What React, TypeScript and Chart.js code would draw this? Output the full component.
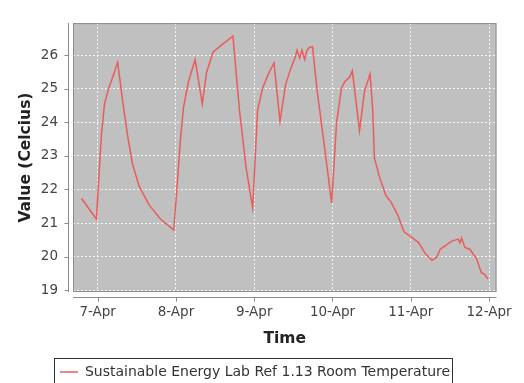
import React, { useEffect, useRef } from 'react';
import { Chart, registerables } from 'chart.js';

Chart.register(...registerables);

// x: days since 7-Apr 00:00
const dayOffsets = [
  -0.206, -0.016, 0.047, 0.088, 0.142, 0.193, 0.256, 0.319, 0.382, 0.445,
  0.53, 0.656, 0.803, 0.971, 1.013, 1.055, 1.097, 1.16, 1.245, 1.337,
  1.391, 1.475, 1.601, 1.728, 1.812, 1.895, 1.98, 2.043, 2.106, 2.19,
  2.253, 2.329, 2.4, 2.463, 2.526, 2.547, 2.581, 2.61, 2.644, 2.673,
  2.711, 2.745, 2.8, 2.863, 2.926, 2.989, 3.052, 3.115, 3.156, 3.22,
  3.253, 3.345, 3.409, 3.48, 3.514, 3.535, 3.598, 3.682, 3.745, 3.83,
  3.913, 3.997, 4.102, 4.187, 4.271, 4.334, 4.376, 4.439, 4.523, 4.607,
  4.628, 4.649, 4.691, 4.754, 4.839, 4.902, 4.943, 4.985,
];

const temperatures = [
  21.73, 21.12, 23.61, 24.56, 25.02, 25.35, 25.79, 24.64, 23.61, 22.76,
  22.1, 21.54, 21.12, 20.79, 22.02, 23.43, 24.45, 25.21, 25.87, 24.55,
  25.49, 26.1, 26.34, 26.57, 24.36, 22.67, 21.45, 24.36, 25.02, 25.49,
  25.77, 24.03, 25.12, 25.58, 25.96, 26.15, 25.92, 26.15, 25.87, 26.15,
  26.25, 26.25, 25.02, 23.89, 22.76, 21.59, 24.0, 25.02, 25.21, 25.35,
  25.54, 23.75, 24.93, 25.44, 24.36, 22.95, 22.39, 21.82, 21.63, 21.26,
  20.74, 20.6, 20.41, 20.08, 19.89, 19.99, 20.22, 20.32, 20.46, 20.52,
  20.41, 20.55, 20.27, 20.22, 19.94, 19.52, 19.47, 19.33,
];

const xTickValues = [0, 1, 2, 3, 4, 5];
const xTickLabels = ['7-Apr', '8-Apr', '9-Apr', '10-Apr', '11-Apr', '12-Apr'];
const yTickValues = [19, 20, 21, 22, 23, 24, 25, 26];
const seriesLabel = 'Sustainable Energy Lab Ref 1.13 Room Temperature';
const xTitle = 'Time';
const yTitle = 'Value (Celcius)';

const AXIS_GAP = 5;
const TICK_LEN = 4;

const plotDecor = {
  id: 'plotDecor',
  beforeDraw(chart: any) {
    const { ctx, chartArea: a } = chart;
    ctx.save();
    ctx.fillStyle = '#c0c0c0';
    ctx.fillRect(a.left, a.top, a.right - a.left, a.bottom - a.top);
    ctx.restore();
  },
  afterDraw(chart: any) {
    const { ctx, chartArea: a } = chart;
    const xs = chart.scales.x;
    const ys = chart.scales.y;
    ctx.save();
    // plot border
    ctx.strokeStyle = '#8e8e8e';
    ctx.lineWidth = 1;
    ctx.strokeRect(a.left + 0.5, a.top + 0.5, a.right - a.left - 1, a.bottom - a.top - 1);
    // offset axis lines
    ctx.strokeStyle = '#8a8a8a';
    ctx.beginPath();
    const yx = Math.round(a.left - AXIS_GAP) + 0.5;
    ctx.moveTo(yx, a.top);
    ctx.lineTo(yx, a.bottom);
    const xy = Math.round(a.bottom + AXIS_GAP) + 0.5;
    ctx.moveTo(a.left, xy);
    ctx.lineTo(a.right, xy);
    ys.ticks.forEach((_t: any, i: number) => {
      const p = Math.round(ys.getPixelForTick(i)) + 0.5;
      ctx.moveTo(yx, p);
      ctx.lineTo(yx - TICK_LEN, p);
    });
    xs.ticks.forEach((_t: any, i: number) => {
      const p = Math.round(xs.getPixelForTick(i)) + 0.5;
      ctx.moveTo(p, xy);
      ctx.lineTo(p, xy + TICK_LEN);
    });
    ctx.stroke();
    // legend frame
    const lg = chart.legend;
    if (lg && lg.legendHitBoxes && lg.legendHitBoxes.length) {
      const hb = lg.legendHitBoxes[0];
      const cy = hb.top + hb.height / 2;
      ctx.strokeStyle = '#333';
      ctx.strokeRect(Math.round(hb.left - 6) + 0.5, Math.round(cy - 14) + 0.5, Math.round(hb.width + 8), 40);
    }
    ctx.restore();
  },
};

export default function App() {
  const canvasRef = useRef<HTMLCanvasElement | null>(null);

  useEffect(() => {
    if (!canvasRef.current) return;
    const tickFont = { family: 'DejaVu Sans', size: 13.5 };
    const titleFont = { family: 'DejaVu Sans', size: 15.5, weight: 'bold' as const };
    const chart = new Chart(canvasRef.current, {
      type: 'line',
      data: {
        datasets: [
          {
            label: seriesLabel,
            data: dayOffsets.map((d, i) => ({ x: d, y: temperatures[i] })),
            borderColor: '#ea5b5b',
            backgroundColor: '#ea5b5b',
            borderWidth: 1.5,
            pointRadius: 0,
            tension: 0,
            fill: false,
          },
        ],
      },
      options: {
        animation: false,
        responsive: true,
        maintainAspectRatio: false,
        layout: { padding: { left: 8, right: 22, top: 8, bottom: 0 } },
        plugins: {
          tooltip: { enabled: false },
          legend: {
            position: 'bottom',
            maxHeight: 18,
            labels: {
              usePointStyle: true,
              pointStyle: 'line',
              pointStyleWidth: 18,
              boxHeight: 12,
              padding: 0,
              color: '#333',
              font: { family: 'DejaVu Sans', size: 14 },
            },
          },
        },
        scales: {
          x: {
            type: 'linear',
            min: -0.315,
            max: 5.095,
            afterBuildTicks: (scale: any) => {
              scale.ticks = xTickValues.map((v) => ({ value: v }));
            },
            afterFit: (scale: any) => {
              scale.height = 73;
            },
            ticks: {
              autoSkip: false,
              maxRotation: 0,
              padding: 12,
              color: '#444',
              font: tickFont,
              callback: (v: any) => {
                const i = xTickValues.indexOf(Number(v));
                return i >= 0 ? xTickLabels[i] : '';
              },
            },
            grid: { color: 'rgba(255,255,255,0.85)', drawTicks: false, lineWidth: 1 },
            border: { display: false, dash: [2, 2] },
            title: { display: true, text: xTitle, color: '#222', font: titleFont, padding: { top: 0, bottom: 17 } },
          },
          y: {
            type: 'linear',
            min: 18.944,
            max: 26.96,
            afterBuildTicks: (scale: any) => {
              scale.ticks = yTickValues.map((v) => ({ value: v }));
            },
            afterFit: (scale: any) => {
              scale.width = 65;
            },
            ticks: {
              autoSkip: false,
              padding: 15,
              color: '#444',
              font: tickFont,
              callback: (v: any) => String(v),
            },
            grid: { color: 'rgba(255,255,255,0.85)', drawTicks: false, lineWidth: 1 },
            border: { display: false, dash: [2, 2] },
            title: { display: true, text: yTitle, color: '#222', font: titleFont, padding: { top: 9, bottom: 0 } },
          },
        },
      },
      plugins: [plotDecor],
    });
    return () => chart.destroy();
  }, []);

  return (
    <div style={{ position: 'absolute', left: 0, top: 0, width: 524, height: 383, background: '#fff' }}>
      <canvas ref={canvasRef} />
    </div>
  );
}
